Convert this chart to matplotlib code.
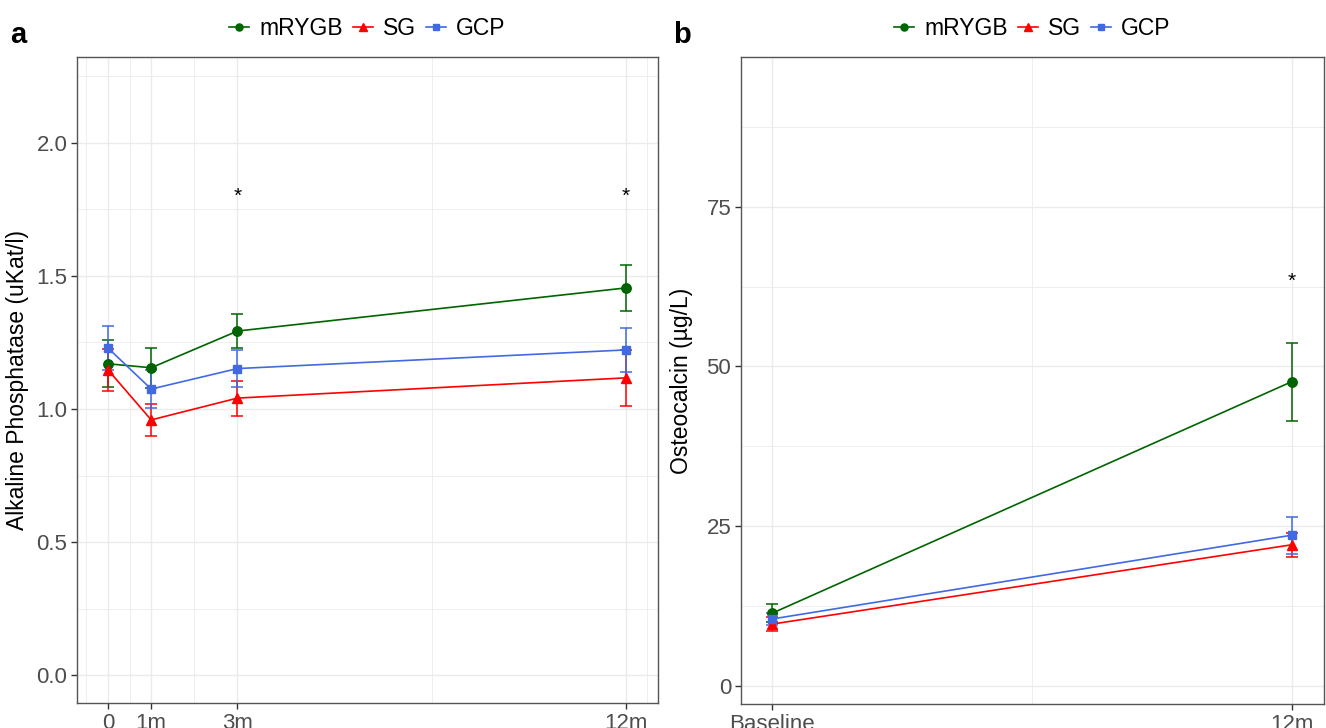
import matplotlib.pyplot as plt
from matplotlib.ticker import FixedLocator

plt.rcParams['font.family'] = ['Liberation Sans', 'DejaVu Sans']

groups = ["mRYGB", "SG", "GCP"]
colors = {"mRYGB": "#006400", "SG": "#FF0000", "GCP": "#4169E1"}
markers = {"mRYGB": "o", "SG": "^", "GCP": "s"}
msizes = {"mRYGB": 6.8, "SG": 7.5, "GCP": 6.3}

# panel a: alkaline phosphatase
alp_months = [0, 1, 3, 12]
alp_labels = ["0", "1m", "3m", "12m"]
alp_mean = {"mRYGB": [1.17, 1.155, 1.293, 1.455],
            "SG": [1.147, 0.959, 1.041, 1.117],
            "GCP": [1.229, 1.075, 1.152, 1.222]}
alp_err = {"mRYGB": [0.088, 0.075, 0.064, 0.085],
           "SG": [0.08, 0.06, 0.066, 0.105],
           "GCP": [0.082, 0.072, 0.068, 0.083]}
alp_star = [3, 12]

# panel b: osteocalcin
oc_months = [0, 12]
oc_labels = ["Baseline", "12m"]
oc_mean = {"mRYGB": [11.4, 47.6],
           "SG": [9.7, 22.1],
           "GCP": [10.5, 23.6]}
oc_err = {"mRYGB": [1.4, 6.1],
          "SG": [1.1, 1.9],
          "GCP": [1.0, 2.9]}
oc_star = [12]

fig = plt.figure(figsize=(13.26, 7.28), dpi=100)
ax1 = fig.add_axes([77/1326, 1-703/728, 581/1326, 646/728])
ax2 = fig.add_axes([741/1326, 1-704/728, 583/1326, 647/728])


def draw(ax, x, mean, err):
    handles = []
    for g in groups:
        ax.errorbar(x, mean[g], yerr=err[g], color=colors[g], capsize=4,
                    elinewidth=1.1, capthick=1.1, fmt="none", zorder=3)
        h, = ax.plot(x, mean[g], color=colors[g], lw=1.2, marker=markers[g],
                     markersize=msizes[g], label=g, zorder=4)
        handles.append(h)
    return handles


def style(ax, xt, xl, xminor, yt, yminor, ylab):
    ax.set_xticks(xt)
    ax.set_xticklabels(xl)
    ax.xaxis.set_minor_locator(FixedLocator(xminor))
    ax.set_yticks(yt)
    ax.yaxis.set_minor_locator(FixedLocator(yminor))
    ax.grid(which="major", color="#EBEBEB", lw=1.0, zorder=0)
    ax.grid(which="minor", color="#EBEBEB", lw=0.6, zorder=0)
    ax.set_axisbelow(True)
    ax.tick_params(which="minor", length=0)
    ax.tick_params(which="major", labelsize=16, labelcolor="#4D4D4D",
                   color="#333333", length=4, width=1, pad=3)
    for s in ax.spines.values():
        s.set_color("#555555")
        s.set_linewidth(1.0)
    ax.set_ylabel(ylab, fontsize=16.5, color="black")


h = draw(ax1, alp_months, alp_mean, alp_err)
for m in alp_star:
    ax1.text(m, 1.80, "*", ha="center", va="center", fontsize=15)
ax1.set_xlim(-0.72, 12.75)
ax1.set_ylim(-0.105, 2.323)
style(ax1, alp_months, alp_labels, [-0.5, 0.5, 2, 7.5, 12.5],
      [0, 0.5, 1.0, 1.5, 2.0], [0.25, 0.75, 1.25, 1.75, 2.25],
      "Alkaline Phosphatase (uKat/l)")
ax1.set_yticklabels(["0.0", "0.5", "1.0", "1.5", "2.0"])
ax1.yaxis.set_label_coords(-0.083, 0.5)

draw(ax2, oc_months, oc_mean, oc_err)
for m in oc_star:
    ax2.text(m, 63.3, "*", ha="center", va="center", fontsize=15)
ax2.set_xlim(-0.72, 12.75)
ax2.set_ylim(-2.8, 98.4)
style(ax2, oc_months, oc_labels, [6], [0, 25, 50, 75],
      [12.5, 37.5, 62.5, 87.5], "Osteocalcin (µg/L)")
ax2.yaxis.set_label_coords(-0.082, 0.5)

for ax in (ax1, ax2):
    ax.legend(handles=h, loc="lower center", bbox_to_anchor=(0.5, 1.0),
              ncol=3, frameon=False, fontsize=16.5, handlelength=0.85,
              handletextpad=0.45, columnspacing=0.45, markerscale=0.75,
              borderaxespad=0.35)

fig.text(10/1326, 1-35/728, "a", fontsize=21, fontweight="bold", va="center")
fig.text(673/1326, 1-35/728, "b", fontsize=21, fontweight="bold", va="center")

plt.savefig("out.png", dpi=100)
